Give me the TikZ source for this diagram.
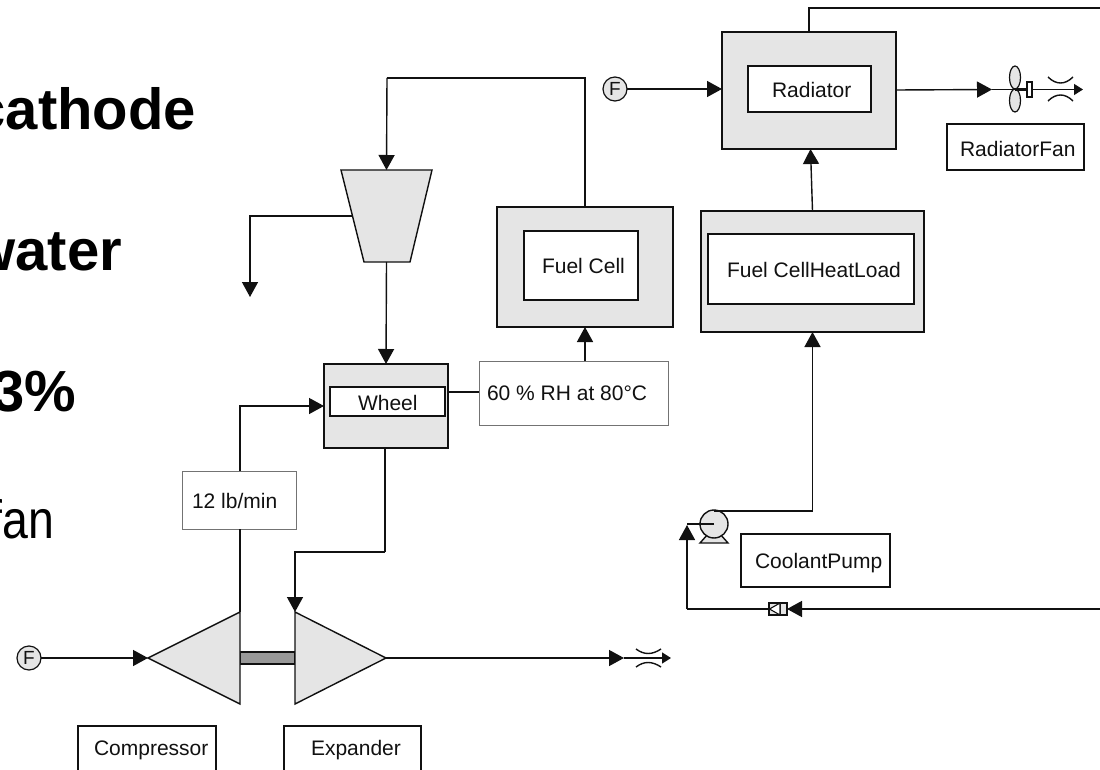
\documentclass[tikz,border=0pt]{standalone}
\usepackage{fontspec}
\usepackage{graphicx}
\setmainfont{Liberation Sans}
\usetikzlibrary{arrows.meta,calc}
\definecolor{lgray}{HTML}{E5E5E5}
\definecolor{ink}{HTML}{111111}
\newcommand{\boxnode}[6]{\node[#2,minimum width=#5pt-#3pt,minimum height=#6pt-#4pt] (#1) at ({(#3+#5)/2},{(#4+#6)/2}) {};}
\tikzset{
  x=1pt,y=-1pt,
  outer/.style={draw=ink,fill=lgray,line width=1.4pt,inner sep=0pt,outer sep=0pt},
  inner/.style={draw=ink,fill=white,line width=1.4pt,inner sep=0pt,outer sep=0pt},
  tag/.style={draw=ink,fill=white,line width=1.2pt,inner sep=0pt,outer sep=0pt},
  note/.style={draw=black!55,fill=white,line width=0.9pt,inner sep=0pt,outer sep=0pt},
  txt/.style={anchor=base west,inner sep=0pt,outer sep=0pt,font=\fontsize{21}{24}\selectfont,text=ink},
  big/.style={anchor=base east,inner sep=0pt,outer sep=0pt,font=\fontsize{58}{60}\selectfont\bfseries,text=black},
  feed/.style={circle,draw=ink,fill=lgray,line width=1.2pt,minimum size=24pt,inner sep=0pt,outer sep=0pt,font=\fontsize{19}{19}\selectfont},
  flow/.style={-{Triangle[length=15pt,width=16pt]},line width=1.4pt},
  small/.style={-{Triangle[length=9pt,width=11pt]},line width=1.4pt},
  plain/.style={line width=1.4pt},
  equip/.style={draw=ink,fill=lgray,line width=1.4pt,line join=miter},
}
\begin{document}
\begin{tikzpicture}[color=ink,line width=1.4pt]
\useasboundingbox (0,0) rectangle (1100,770);
\clip (0,0) rectangle (1100,770);
\fill[white] (0,0) rectangle (1100,770);
% Slide text
\node[big] (t1) at (196,130) {cathode};
\node[big] (t2) at (122,270) {water};
\node[big] (t3) at (76,411) {3\%};
\node[big,font=\fontsize{54}{56}\selectfont] (t4) at (54,538) {\scalebox{0.86}[1]{fan}};
% Boxes
\boxnode{rad}{outer}{722}{32}{896}{149}
\boxnode{radin}{inner}{748}{66}{871}{112}
\boxnode{radfan}{tag}{947}{124}{1084}{170}
\boxnode{hl}{outer}{701}{211}{924}{332}
\boxnode{hlin}{inner}{708}{234}{914}{304}
\boxnode{fc}{outer}{497}{207}{673}{327}
\boxnode{fcin}{inner}{524}{231}{638}{300}
\boxnode{wh}{outer}{324}{364}{448}{448}
\boxnode{whin}{inner}{330}{387}{445}{416}
\boxnode{rh}{note}{479}{361}{668}{425}
\boxnode{lb}{note}{182}{471}{296}{529}
\boxnode{pumpbox}{tag}{741}{534}{890}{587}
\boxnode{compbox}{tag}{78}{726}{216}{790}
\boxnode{expbox}{tag}{284}{726}{421}{790}
% Labels
\node[txt] (l1) at (772,98) {Radiator};
\node[txt] (l2) at (960,157) {RadiatorFan};
\node[txt] (l3) at (727,277) {Fuel CellHeatLoad};
\node[txt] (l4) at (542,273) {Fuel Cell};
\node[txt] (l5) at (358,410) {Wheel};
\node[txt] (l6) at (487,400) {60 \% RH at 80°C};
\node[txt] (l7) at (192,508) {12 lb/min};
\node[txt] (l8) at (755,568) {CoolantPump};
\node[txt] (l9) at (94,755) {Compressor};
\node[txt] (l10) at (311,755) {Expander};
% Feeds
\node[feed] (f1) at (615,89) {F};
\node[feed] (f2) at (29,658) {F};
% Equipment coordinates
\coordinate (stop) at (386.5,170);
\coordinate (sbot) at (386.5,262);
\coordinate (sleft) at (352,216);
\coordinate (bend1) at (387,78);
\coordinate (drain) at (250,297);
\coordinate (comptip) at (148,658);
\coordinate (comptop) at (240,612);
\coordinate (compbot) at (240,704);
\coordinate (exptop) at (295,612);
\coordinate (expbot) at (295,704);
\coordinate (exptip) at (386,658);
\coordinate (sh1) at (240,652);
\coordinate (sh2) at (295,664);
% Splitter
\draw[equip] (341,170) -- (432,170) -- (410,262) -- (364,262) -- cycle;
% Compressor, expander, shaft
\filldraw[draw=ink,fill=black!40,line width=1.4pt] (sh1) rectangle (sh2);
\draw[equip] (comptop) -- (comptip) -- (compbot) -- cycle;
\draw[equip] (exptop) -- (exptip) -- (expbot) -- cycle;
% Connectors: cathode
\draw[plain] (fc.north) |- (bend1);
\draw[flow] (bend1) -- (stop);
\draw[flow] (sleft) -| (drain);
\draw[flow] (sbot) -- (wh.north);
\coordinate (whr) at (448,392);
\coordinate (rhl) at (479,392);
\draw[plain] (whr) -- (rhl);
\coordinate (rhtop) at (rh.north-|fc.south);
\draw[flow] (rhtop) -- (fc.south);
\coordinate (lbbot) at (lb.south-|comptop);
\draw[plain] (comptop) -- (lbbot);
\coordinate (lbtop) at (lb.north-|comptop);
\coordinate (whin2) at (324,406);
\draw[flow] (lbtop) |- (whin2);
\coordinate (whbot) at (385,448);
\coordinate (jog) at (385,552);
\draw[plain] (whbot) -- (jog);
\draw[flow] (jog) -| (exptop);
\draw[flow] (f2) -- (comptip);
\coordinate (noz1) at (624,658);
\coordinate (noz1e) at (671,658);
\draw[flow] (exptip) -- (noz1);
\draw[small] (noz1) -- (noz1e);
\draw (636,649) .. controls (644,655) and (652,655) .. (661,649);
\draw (636,667) .. controls (644,661) and (652,661) .. (661,667);
% Connectors: radiator
\coordinate (rtop) at (1100,8);
\draw[plain] (rad.north) |- (rtop);
\draw[flow] (f1) -- (f1-|rad.west);
\coordinate (rout) at (992,89.5);
\coordinate (routs) at (896,90);
\coordinate (route) at (1083,89.5);
\draw[flow] (routs) -- (rout);
\draw[small] (rout) -- (route);
\draw[flow] (hl.north) -- ($(rad.south)+(1.5,0)$);
% Fan
\draw[equip,line width=1.2pt] (1015,77.5) ellipse [x radius=5.5,y radius=11.5];
\draw[equip,line width=1.2pt] (1015,100.5) ellipse [x radius=5.5,y radius=11.5];
\draw[line width=3.5pt] (1015,89.5) -- (1027,89.5);
\draw[fill=white,line width=1.2pt] (1027,82) rectangle (1032,97);
\draw (1048,77) .. controls (1056,85) and (1065,85) .. (1073,77);
\draw (1048,101) .. controls (1056,93) and (1065,93) .. (1073,101);
% Pump
\coordinate (pumpc) at (714,524);
\coordinate (pumptop) at (714,511);
\coordinate (pumpleft) at (687,524);
\draw[equip] (708,534) -- (700,543) -- (728,543) -- (720,534) -- cycle;
\draw[equip] (pumpc) circle [radius=14];
\coordinate (hlfoot) at (hl.south|-pumptop);
\draw[plain] (pumptop) -- (hlfoot);
\draw[flow] (hlfoot) -- (hl.south);
\draw[plain,line width=1.1pt] (pumpc) -- (pumpleft);
% Return line and valve
\coordinate (rret) at (1100,609);
\coordinate (vtip) at (787,609);
\coordinate (vl) at (769,609);
\coordinate (corner) at (687,609);
\coordinate (ptip) at (687,525);
\draw[flow] (rret) -- (vtip);
\draw[equip,line width=1.1pt] (769,603) rectangle (787,615);
\draw[line width=1.1pt] (780,603) -- (780,615);
\draw[fill=white,line width=1.1pt] (780,603) -- (769.5,609) -- (780,615) -- cycle;
\draw[plain] (vl) -- (corner);
\draw[flow] (corner) -- (ptip);
\end{tikzpicture}
\end{document}
